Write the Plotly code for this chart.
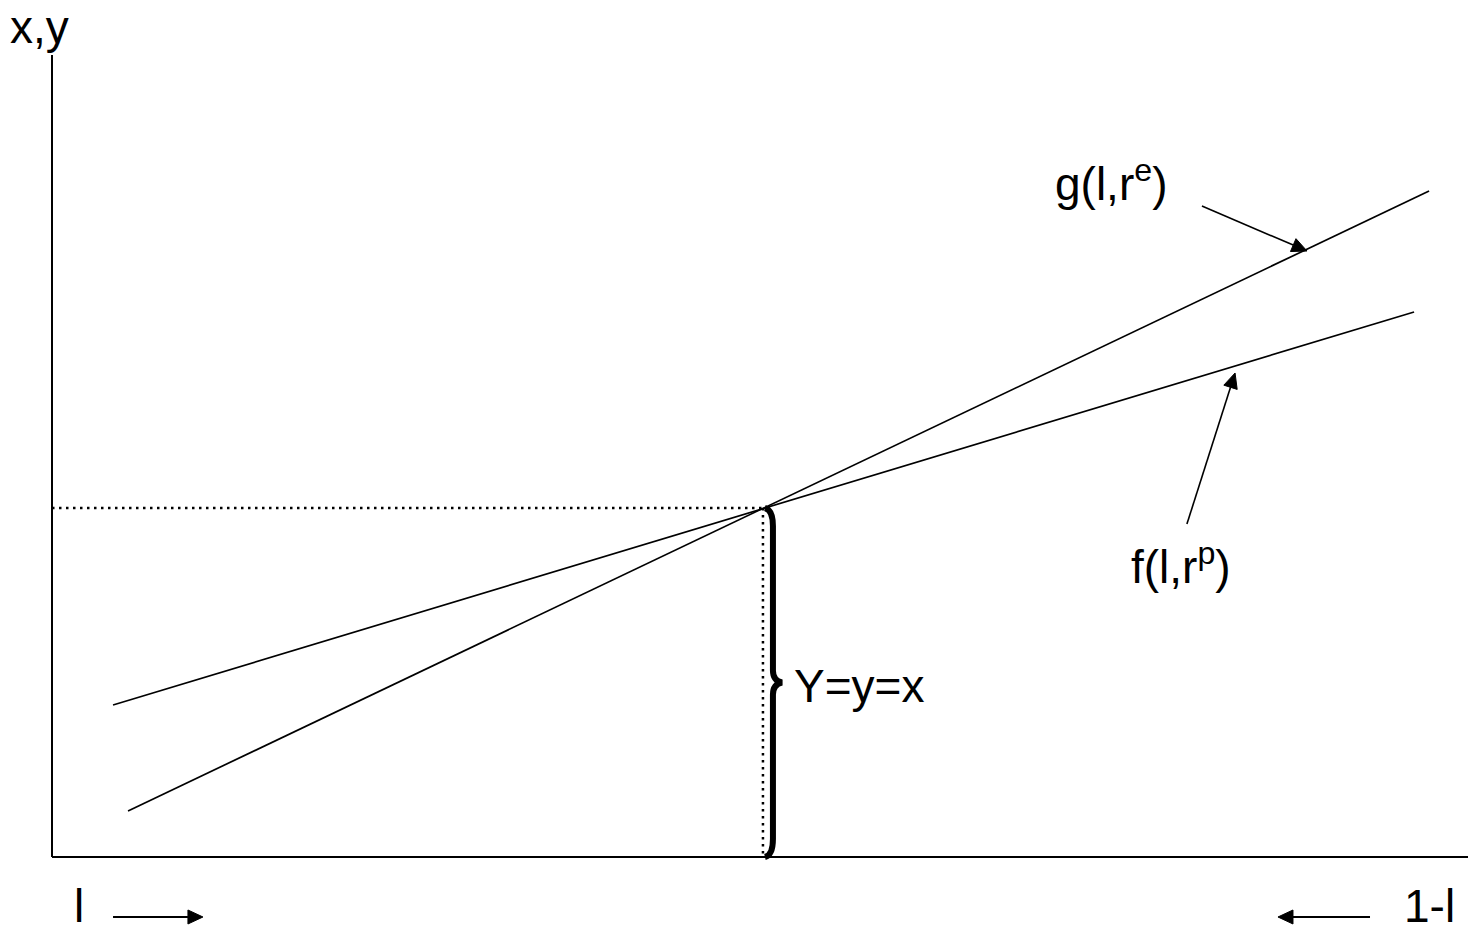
import math
import plotly.graph_objects as go

# lines (axis units, origin at the corner of the axes)
g_x = [0.537, 9.725]
g_y = [0.574, 8.304]
f_x = [0.431, 9.619]
f_y = [1.895, 6.796]
eq_x = 5.042
eq_y = 4.352

# the two drawn axes
x_axis_end = 10.0
y_axis_end = 10.0

PX_X = 141.6  # pixels per x unit
PX_Y = 80.2   # pixels per y unit
FONT = "Liberation Sans, Arial, sans-serif"

y_bottom = -76 / PX_Y               # page bottom in axis units
y_top = y_axis_end + 55 / PX_Y      # page top in axis units

# text labels
label_text = ["x,y", "g(l,r<sup>e</sup>)", "f(l,r<sup>p</sup>)", "Y=y=x", "l", "1-l"]
label_x = [-0.303, 7.076, 7.613, 5.233, 0.150, 9.541]
label_y = [y_top, 8.429, 3.653, 2.132, y_bottom, y_bottom]
label_anchor = ["top", "middle", "middle", "middle", "bottom", "bottom"]

# arrows: tail -> head
arrow_tail_x = [8.121, 8.015, 0.431, 9.308]
arrow_tail_y = [8.117, 4.152, -0.748, -0.748]
arrow_head_x = [8.863, 8.355, 1.066, 8.658]
arrow_head_y = [7.556, 6.035, -0.748, -0.748]
arrow_width = [1.6, 1.6, 2.2, 2.2]

fig = go.Figure()

# axes drawn as lines so labels below/left of them stay in data space
fig.add_trace(go.Scatter(x=[0, x_axis_end], y=[0, 0], mode="lines",
                         line=dict(color="black", width=2), cliponaxis=False))
fig.add_trace(go.Scatter(x=[0, 0], y=[0, y_axis_end], mode="lines",
                         line=dict(color="black", width=2), cliponaxis=False))

fig.add_trace(go.Scatter(x=g_x, y=g_y, mode="lines",
                         line=dict(color="black", width=1.7), cliponaxis=False))
fig.add_trace(go.Scatter(x=f_x, y=f_y, mode="lines",
                         line=dict(color="black", width=1.7), cliponaxis=False))

# dotted guides
fig.add_trace(go.Scatter(x=[0, eq_x], y=[eq_y, eq_y], mode="lines",
                         line=dict(color="black", width=2.5, dash="2.5px,4.5px"),
                         cliponaxis=False))
vx = eq_x - 3 / PX_X
fig.add_trace(go.Scatter(x=[vx, vx], y=[eq_y, 0], mode="lines",
                         line=dict(color="black", width=2.5, dash="2.5px,4.5px"),
                         cliponaxis=False))

# curly brace from the intersection down to the axis
def P(dx, y):
    return f"{eq_x + dx / PX_X:.4f},{y:.4f}"

top, bot, mid = eq_y, 0.0, eq_y / 2
c = 18 / PX_Y
t = 12 / PX_Y
e = 2 / PX_Y
brace = (f"M{P(-1, top)} Q{P(7, top - e)} {P(7, top - c)} L{P(7, mid + t)} "
         f"Q{P(7, mid + e)} {P(16, mid)} Q{P(7, mid - e)} {P(7, mid - t)} "
         f"L{P(7, bot + c)} Q{P(7, bot + e)} {P(-1, bot)}")
fig.add_shape(type="path", path=brace, xref="x", yref="y",
              line=dict(color="black", width=6))

# arrows: shaft as a line, head as a filled triangle
HEAD_LEN, HEAD_HALF = 15, 7
for tx, ty, hx, hy, w in zip(arrow_tail_x, arrow_tail_y, arrow_head_x, arrow_head_y, arrow_width):
    dxp, dyp = (hx - tx) * PX_X, (hy - ty) * PX_Y
    n = math.hypot(dxp, dyp)
    ux, uy = dxp / n, dyp / n
    bx = hx - ux * HEAD_LEN / PX_X
    by = hy - uy * HEAD_LEN / PX_Y
    fig.add_trace(go.Scatter(x=[tx, bx], y=[ty, by], mode="lines",
                             line=dict(color="black", width=w), cliponaxis=False))
    c1 = (bx - uy * HEAD_HALF / PX_X, by + ux * HEAD_HALF / PX_Y)
    c2 = (bx + uy * HEAD_HALF / PX_X, by - ux * HEAD_HALF / PX_Y)
    fig.add_shape(type="path", xref="x", yref="y",
                  path=f"M{hx:.4f},{hy:.4f} L{c1[0]:.4f},{c1[1]:.4f} L{c2[0]:.4f},{c2[1]:.4f} Z",
                  fillcolor="black", line=dict(color="black", width=1))

for txt, x, y, anc in zip(label_text, label_x, label_y, label_anchor):
    fig.add_annotation(x=x, y=y, text=txt, showarrow=False,
                       xanchor="left", yanchor=anc, borderpad=0,
                       font=dict(family=FONT, size=46, color="black"))

# plot area fills the page: axis origin sits 52px from the left, 76px from the bottom
fig.update_xaxes(range=[-52 / PX_X, x_axis_end], visible=False)
fig.update_yaxes(range=[y_bottom, y_top], visible=False)

fig.update_layout(width=1468, height=933, showlegend=False,
                  margin=dict(l=0, r=0, t=0, b=0),
                  plot_bgcolor="white", paper_bgcolor="white",
                  font=dict(family=FONT))

fig.write_html("out.html", config={"displayModeBar": False},
               post_script="document.body.style.margin='0';")
